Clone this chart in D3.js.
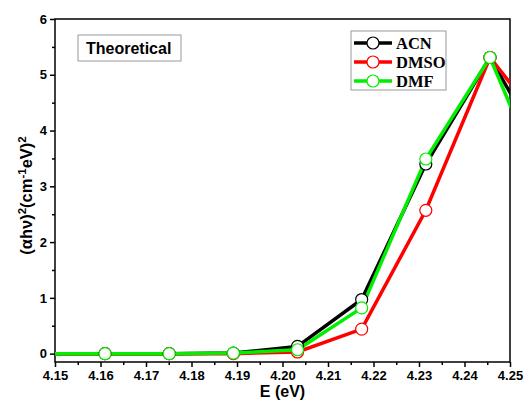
<!DOCTYPE html>
<html>
<head>
<meta charset="utf-8">
<script src="https://cdn.jsdelivr.net/npm/d3@7"></script>
<style>
body { margin: 0; background: #fff; }
</style>
</head>
<body>
<div id="chart-area"></div>
<script>
// DATA (points beyond the axis range are clipped away)
var energy = [4.1469, 4.161, 4.1751, 4.1892, 4.2033, 4.2174, 4.2315, 4.2456, 4.2597];
var acn  = [0, 0, 0, 0.01, 0.13, 0.97, 3.4, 5.31, 3.3];
var dmso = [0, 0, 0, 0.0, 0.03, 0.44, 2.57, 5.31, 3.85];
var dmf  = [0, 0, 0, 0.01, 0.07, 0.82, 3.49, 5.31, 2.6];
var seriesNames = ["ACN", "DMSO", "DMF"];
var seriesColors = ["#000000", "#ff0000", "#00ee00"];
var xTicks = [4.15, 4.16, 4.17, 4.18, 4.19, 4.20, 4.21, 4.22, 4.23, 4.24, 4.25];
var yTicks = [0, 1, 2, 3, 4, 5, 6];

var sans = "'Liberation Sans', Arial, sans-serif";
var serif = "'Liberation Serif', 'Times New Roman', serif";

var margin = { left: 55, right: 20, top: 19, bottom: 41 };
var width = 530 - margin.left - margin.right,
	height = 403 - margin.top - margin.bottom;

var svg = d3.select("#chart-area")
	.append("svg")
	.attr("width", 530)
	.attr("height", 403)
	.style("font-family", sans);

var g = svg.append("g")
	.attr("transform", "translate(" + margin.left + "," + margin.top + ")");

// SCALES
var x = d3.scaleLinear()
	.domain([4.15, 4.25])
	.range([0, width]);

var y = d3.scaleLinear()
	.domain([-0.15, 6])
	.range([height, 0]);

g.append("clipPath")
	.attr("id", "clip")
	.append("rect")
	.attr("width", width)
	.attr("height", height);

// MINOR TICKS
var xMinor = d3.axisBottom(x)
	.tickValues(d3.range(0, 10).map(function (i) { return 4.155 + i * 0.01; }))
	.tickSize(3)
	.tickFormat("");
g.append("g")
	.attr("transform", "translate(0," + height + ")")
	.call(xMinor);

var yMinor = d3.axisLeft(y)
	.tickValues([0.5, 1.5, 2.5, 3.5, 4.5, 5.5])
	.tickSize(3)
	.tickFormat("");
g.append("g").call(yMinor);

// X AXIS
var xAxisCall = d3.axisBottom(x)
	.tickValues(xTicks)
	.tickSize(5)
	.tickPadding(4)
	.tickFormat(d3.format(".2f"));
g.append("g")
	.attr("transform", "translate(0," + height + ")")
	.call(xAxisCall);

// Y AXIS
var yAxisCall = d3.axisLeft(y)
	.tickValues(yTicks)
	.tickSize(5)
	.tickPadding(3)
	.tickFormat(d3.format("d"));
g.append("g").call(yAxisCall);

g.selectAll(".domain").remove();
g.selectAll(".tick line").attr("stroke", "#000").attr("stroke-width", 1.5);
g.selectAll(".tick text")
	.attr("fill", "#000")
	.attr("font-size", "13px")
	.attr("font-weight", "bold")
	.attr("font-family", sans);

// FRAME
g.append("rect")
	.attr("width", width)
	.attr("height", height)
	.attr("fill", "none")
	.attr("stroke", "#000")
	.attr("stroke-width", 1.5);

// LINES
var allSeries = [acn, dmso, dmf];
var line = d3.line()
	.x(function (d, i) { return x(energy[i]); })
	.y(function (d) { return y(d); });

var plot = g.append("g").attr("clip-path", "url(#clip)");

allSeries.forEach(function (vals, k) {
	plot.append("path")
		.datum(vals)
		.attr("fill", "none")
		.attr("stroke", seriesColors[k])
		.attr("stroke-width", 3.5)
		.attr("d", line);
});

allSeries.forEach(function (vals, k) {
	plot.selectAll(".pt" + k)
		.data(vals.slice(1, 8))
		.enter()
		.append("circle")
		.attr("cx", function (d, i) { return x(energy[i + 1]); })
		.attr("cy", function (d) { return y(d); })
		.attr("r", 6)
		.attr("fill", "#fff")
		.attr("stroke", seriesColors[k])
		.attr("stroke-width", 1.2);
});

// LEGEND
var legend = svg.append("g").attr("transform", "translate(351,31)");
legend.append("rect")
	.attr("width", 95)
	.attr("height", 59)
	.attr("fill", "#fff")
	.attr("stroke", "#999")
	.attr("stroke-width", 1);
seriesNames.forEach(function (name, k) {
	var ly = 12 + k * 19;
	legend.append("line")
		.attr("x1", 3).attr("x2", 41)
		.attr("y1", ly).attr("y2", ly)
		.attr("stroke", seriesColors[k])
		.attr("stroke-width", 3.5);
	legend.append("circle")
		.attr("cx", 22).attr("cy", ly)
		.attr("r", 6)
		.attr("fill", "#fff")
		.attr("stroke", seriesColors[k])
		.attr("stroke-width", 1.2);
	legend.append("text")
		.attr("x", 45)
		.attr("y", ly + 5.5)
		.attr("font-family", serif)
		.attr("font-weight", "bold")
		.attr("font-size", "16.5px")
		.text(name);
});

// THEORETICAL LABEL
svg.append("rect")
	.attr("x", 78).attr("y", 35)
	.attr("width", 103).attr("height", 26)
	.attr("fill", "#fff")
	.attr("stroke", "#999")
	.attr("stroke-width", 1);
svg.append("text")
	.attr("x", 86)
	.attr("y", 54)
	.attr("font-size", "16px")
	.attr("font-weight", "bold")
	.text("Theoretical");

// AXIS TITLES
svg.append("text")
	.attr("x", margin.left + width / 2)
	.attr("y", 397)
	.attr("text-anchor", "middle")
	.attr("font-size", "16px")
	.attr("font-weight", "bold")
	.text("E (eV)");

var yLabel = svg.append("text")
	.attr("transform", "translate(32," + (margin.top + height / 2 + 5) + ") rotate(-90)")
	.attr("text-anchor", "middle")
	.attr("font-size", "16.5px")
	.attr("font-weight", "bold");
yLabel.append("tspan").text("(αhν)");
yLabel.append("tspan").attr("baseline-shift", "super").attr("font-size", "11.5px").text("2");
yLabel.append("tspan").text("(cm");
yLabel.append("tspan").attr("baseline-shift", "super").attr("font-size", "11.5px").text("-1");
yLabel.append("tspan").text("eV)");
yLabel.append("tspan").attr("baseline-shift", "super").attr("font-size", "11.5px").text("2");
</script>
</body>
</html>
